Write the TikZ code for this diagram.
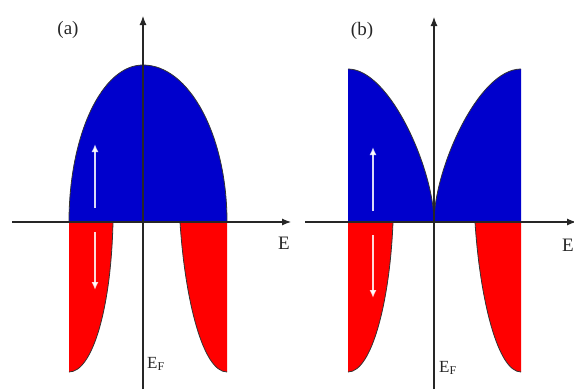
\documentclass[tikz,border=0pt]{standalone}
\usepackage{fontspec}
\setmainfont{Liberation Serif}
\usetikzlibrary{arrows.meta}
\definecolor{bandblue}{RGB}{0,0,204}
\definecolor{bandred}{RGB}{255,0,0}
\tikzset{
  axis/.style={draw=black!85, line width=1.1pt, -{Latex[length=9pt,width=7pt]}},
  spinarrow/.style={draw=white, draw opacity=0.85, line width=1.6pt, -{Latex[length=8pt,width=7pt]}},
  edge/.style={draw=black!80, line width=0.8pt},
  lbl/.style={font=\fontsize{19}{21}\selectfont, inner sep=0pt, text=black!85},
  eflbl/.style={font=\fontsize{17}{19}\selectfont, inner sep=0pt, anchor=west, text=black!85},
}
\newcommand{\fermiE}{E\raisebox{-0.3ex}{\fontsize{12}{13}\selectfont F}}
\begin{document}
\begin{tikzpicture}[x=1pt,y=-1pt]
\useasboundingbox (0,0) rectangle (574,389);
% ---------------- panel (a) ----------------
\fill[bandblue] (69,222) .. controls (69,135) and (102,65) .. (143,65)
  .. controls (189,65) and (227,135) .. (227,222) -- cycle;
\draw[edge] (69,222) .. controls (69,135) and (102,65) .. (143,65)
  .. controls (189,65) and (227,135) .. (227,222);
\fill[bandred] (69,222) -- (113,222) .. controls (111,310) and (92,372) .. (69,372) -- cycle;
\draw[edge] (113,222) .. controls (111,310) and (92,372) .. (69,372);
\fill[bandred] (227,222) -- (180,222) .. controls (185,300) and (203,372) .. (227,372) -- cycle;
\draw[edge] (180,222) .. controls (185,300) and (203,372) .. (227,372);
\coordinate (av0) at (143,389);
\coordinate (av1) at (143,16);
\coordinate (ah0) at (12,222);
\coordinate (ah1) at (291,222);
\draw[axis] (av0) -- (av1);
\draw[axis] (ah0) -- (ah1);
\coordinate (au0) at (95,208);
\coordinate (au1) at (95,144);
\coordinate (ad0) at (95,232);
\coordinate (ad1) at (95,290);
\draw[spinarrow] (au0) -- (au1);
\draw[spinarrow] (ad0) -- (ad1);
\node[lbl] (la) at (68,30) {(a)};
\node[lbl] (ea) at (284,243) {E};
\node[eflbl] (efa) at (147,364) {\fermiE};
% ---------------- panel (b) ----------------
\fill[bandblue] (348,222) -- (348,69) .. controls (390,69) and (434,170) .. (434,222) -- cycle;
\draw[edge] (348,69) .. controls (390,69) and (434,170) .. (434,222);
\fill[bandblue] (521,222) -- (521,69) .. controls (478,69) and (434,170) .. (434,222) -- cycle;
\draw[edge] (521,69) .. controls (478,69) and (434,170) .. (434,222);
\fill[bandred] (348,222) -- (393,222) .. controls (390,300) and (372,372) .. (348,372) -- cycle;
\draw[edge] (393,222) .. controls (390,300) and (372,372) .. (348,372);
\fill[bandred] (521,222) -- (475,222) .. controls (480,300) and (498,372) .. (521,372) -- cycle;
\draw[edge] (475,222) .. controls (480,300) and (498,372) .. (521,372);
\coordinate (bv0) at (434,389);
\coordinate (bv1) at (434,17);
\coordinate (bh0) at (305,222);
\coordinate (bh1) at (576,222);
\draw[axis] (bv0) -- (bv1);
\draw[axis] (bh0) -- (bh1);
\coordinate (bu0) at (373,211);
\coordinate (bu1) at (373,147);
\coordinate (bd0) at (373,235);
\coordinate (bd1) at (373,298);
\draw[spinarrow] (bu0) -- (bu1);
\draw[spinarrow] (bd0) -- (bd1);
\node[lbl] (lb) at (362,31) {(b)};
\node[lbl, anchor=east] (eb) at (574,245) {E};
\node[eflbl] (efb) at (439,368) {\fermiE};
\end{tikzpicture}
\end{document}
